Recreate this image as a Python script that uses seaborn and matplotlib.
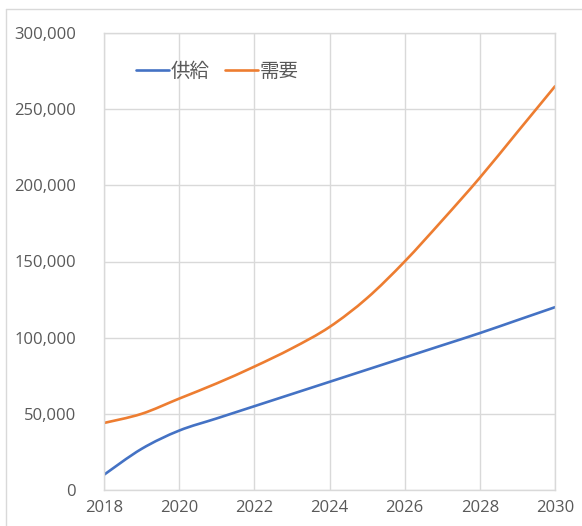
import matplotlib
matplotlib.use("Agg")
import matplotlib.pyplot as plt
import seaborn as sns
import pandas as pd
import numpy as np
from matplotlib.ticker import FuncFormatter, MultipleLocator
from matplotlib.lines import Line2D
from matplotlib.path import Path
from matplotlib.patches import PathPatch

years = [2018, 2019, 2020, 2021, 2022, 2023, 2024, 2025, 2026, 2027, 2028, 2029, 2030]
supply = [10000, 27000, 39000, 47000, 55000, 63000, 71000, 79000, 87000, 95000, 103000, 111500, 120000]
demand = [44000, 50000, 60000, 70000, 81000, 93000, 107000, 126000, 150000, 177000, 205000, 235000, 265000]
series_names = ["供給", "需要"]
colors = ["#4472C4", "#ED7D31"]

df = pd.DataFrame({
    "year": years * 2,
    "value": supply + demand,
    "series": [series_names[0]] * len(years) + [series_names[1]] * len(years),
})

sns.set_theme(style="white")
plt.rcParams['font.family'] = ['Open Sans', 'Noto Sans CJK JP', 'DejaVu Sans']

fig = plt.figure(figsize=(5.82, 5.26), dpi=100)
ax = fig.add_axes([104/582, 1-490/526, (555-104)/582, (490-33)/526])

# outer chart frame (left and top edges)
fig.add_artist(Line2D([6/582, 6/582], [0, 1-9/526], color="#D9D9D9", lw=1, transform=fig.transFigure))
fig.add_artist(Line2D([6/582, 1], [1-9/526, 1-9/526], color="#D9D9D9", lw=1, transform=fig.transFigure))

sns.lineplot(data=df, x="year", y="value", hue="series", palette=colors,
             linewidth=1.9, ax=ax, legend=False)

# render the seaborn lines as smoothed (Excel-style) curves through the same points
for ln in list(ax.lines):
    x, y = ln.get_xdata().astype(float), ln.get_ydata().astype(float)
    n = len(x)
    verts = [(x[0], y[0])]
    codes = [Path.MOVETO]
    for i in range(n - 1):
        x0, y0 = (x[i-1], y[i-1]) if i > 0 else (x[i], y[i])
        x3, y3 = (x[i+2], y[i+2]) if i + 2 < n else (x[i+1], y[i+1])
        c1 = (x[i] + (x[i+1] - x0) / 6, y[i] + (y[i+1] - y0) / 6)
        c2 = (x[i+1] - (x3 - x[i]) / 6, y[i+1] - (y3 - y[i]) / 6)
        verts += [c1, c2, (x[i+1], y[i+1])]
        codes += [Path.CURVE4] * 3
    ax.add_patch(PathPatch(Path(verts, codes), fill=False, edgecolor=ln.get_color(),
                           lw=ln.get_linewidth(), capstyle="round", joinstyle="round"))
    ln.set_visible(False)

ax.set_xlim(2018, 2030)
ax.set_ylim(0, 300000)
ax.xaxis.set_major_locator(MultipleLocator(2))
ax.yaxis.set_major_locator(MultipleLocator(50000))
ax.yaxis.set_major_formatter(FuncFormatter(lambda v, p: f"{int(v):,}"))
ax.grid(True, color="#D9D9D9", lw=1)
ax.set_axisbelow(True)
for s in ax.spines.values():
    s.set_color("#D9D9D9")
    s.set_linewidth(1)
ax.tick_params(axis="both", length=0, labelsize=12, colors="#595959")
ax.tick_params(axis="y", pad=20)
ax.tick_params(axis="x", pad=7)
ax.set_xlabel("")
ax.set_ylabel("")

handles = [Line2D([], [], color=c, lw=1.9) for c in colors]
leg = ax.legend(handles, series_names, loc="center left", bbox_to_anchor=(0.071, 0.916),
                ncol=2, frameon=False, handlelength=1.7, handletextpad=0.1,
                columnspacing=0.75, borderaxespad=0, borderpad=0, handleheight=0.7,
                prop={"family": ["Noto Sans CJK JP", "DejaVu Sans"], "size": 14})
for t in leg.get_texts():
    t.set_color("#595959")

fig.savefig("out.png", dpi=100, facecolor="white")
